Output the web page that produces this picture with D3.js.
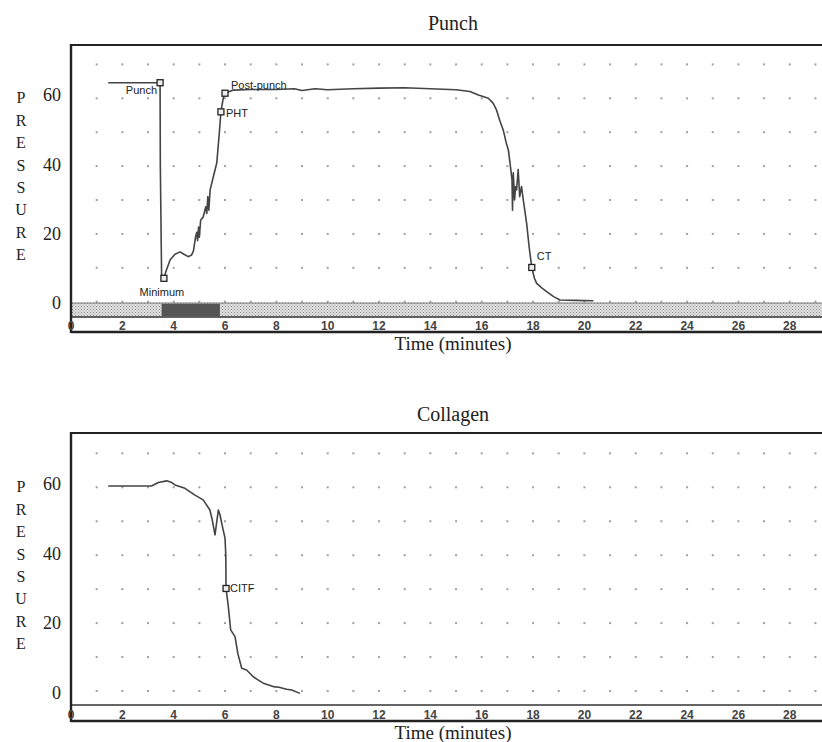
<!DOCTYPE html>
<html><head><meta charset="utf-8">
<script src="https://cdn.jsdelivr.net/npm/d3@7"></script>
<style>body{margin:0;background:#fff}svg{display:block}</style>
</head><body>
<script>
// ---- data ----
const xTicks = [0,2,4,6,8,10,12,14,16,18,20,22,24,26,28];
const yTicks = [0,20,40,60];
const gridMinutes = d3.range(1,30);
const gridValues = [0,10,20,30,40,50,60,70];

const punchTime = [1.45,3.47,3.48,3.53,3.62,3.7,3.86,4.05,4.25,4.4,4.57,4.7,4.77,4.85,4.9,4.93,4.97,5.0,5.05,5.15,5.25,5.29,5.33,5.37,5.42,5.55,5.68,5.78,5.84,5.93,6.0,6.3,7,8,8.7,9,9.5,10,11,12,13,14,15,15.54,15.87,16.26,16.45,16.58,16.7,16.84,16.95,17.04,17.1,17.18,17.2,17.23,17.28,17.32,17.36,17.42,17.48,17.55,17.62,17.75,17.85,17.95,18.05,18.14,18.35,18.53,18.8,19.05,19.6,20.35];
const punchPressure = [64.6,64.6,40,7.2,6.9,9,12.3,14,14.7,14,13.3,13.8,15,19,20.5,18,22,19,24,25,28,26,31,27,33,37,41,50,56,60,61.5,62.4,62.6,62.6,62.8,62.3,62.8,62.5,62.8,63,63.1,62.8,62.5,62,61,60,58.5,56.5,53.5,50.6,47,44.7,41,36,27,38,30,34,33,39,31,34,30,23.1,16,10.1,7,5.4,4,3,1.5,0.5,0.4,0.3];

const collagenTime = [1.45,2.5,3.14,3.4,3.73,3.9,4.05,4.44,4.83,5.15,5.41,5.5,5.61,5.68,5.74,5.8,5.93,6.0,6.03,6.04,6.13,6.22,6.39,6.5,6.65,6.84,7.1,7.3,7.49,7.7,7.88,8.1,8.4,8.6,8.92];
const collagenPressure = [60.4,60.4,60.4,61.4,61.9,61.5,60.7,59.7,57.7,56.3,53.3,50.5,46,50,53.3,52,47.4,45,40,30.2,24.8,18,16,11,6.7,6.2,4.2,3.2,2.3,1.8,1.3,1.1,0.5,0.3,-0.7];

const punchMarkers = [
  {name:"Punch", t:3.47, v:64.6, anchor:"end", dx:-3, dy:11},
  {name:"Minimum", t:3.62, v:6.9, anchor:"middle", dx:-2, dy:18},
  {name:"PHT", t:5.84, v:56, anchor:"start", dx:5, dy:5},
  {name:"Post-punch", t:6.0, v:61.5, anchor:"start", dx:6, dy:-4},
  {name:"CT", t:17.95, v:10.1, anchor:"start", dx:5, dy:-7}
];
const collagenMarkers = [
  {name:"CITF", t:6.04, v:30.2, anchor:"start", dx:4, dy:4}
];
const clotBand = [3.53, 5.8];

// ---- drawing ----
const W = 822, H = 742;
const svg = d3.select("body").append("svg").attr("width", W).attr("height", H);
const defs = svg.append("defs");
const pat = defs.append("pattern").attr("id","hatch").attr("patternUnits","userSpaceOnUse")
  .attr("width",3).attr("height",3);
pat.append("rect").attr("width",3).attr("height",3).attr("fill","#e2e2e2");
pat.append("rect").attr("width",1).attr("height",1).attr("fill","#8a8a8a");
pat.append("rect").attr("x",1.5).attr("y",1.5).attr("width",1).attr("height",1).attr("fill","#9a9a9a");

const x = d3.scaleLinear().domain([0, 29.4]).range([71, 825.7]);
const serif = "'Liberation Serif','DejaVu Serif',serif";
const sans = "'Liberation Sans','DejaVu Sans',sans-serif";

function panel(opts) {
  const y = d3.scaleLinear().domain([0, 60]).range([opts.y0, opts.y60]);
  const g = svg.append("g");
  // title
  g.append("text").attr("x", 453).attr("y", opts.titleY).attr("text-anchor","middle")
    .attr("font-family", serif).attr("font-size", 20).attr("fill","#222").text(opts.title);
  // grid dots
  const pts = [];
  gridMinutes.forEach(m => gridValues.forEach(v => pts.push([m, v])));
  g.selectAll("rect.dot").data(pts).join("rect").attr("class","dot")
    .attr("x", d => x(d[0]) - 1).attr("y", d => y(d[1]) - 1)
    .attr("width", 2).attr("height", 2).attr("fill", "#a0a0a0");
  // band
  if (opts.band) {
    g.append("rect").attr("x", x(0)).attr("y", y(0) + 1.3).attr("width", x(29.4) - x(0))
      .attr("height", opts.lineY - y(0) - 1.3).attr("fill","url(#hatch)");
    g.append("rect").attr("x", x(clotBand[0])).attr("y", y(0) + 2)
      .attr("width", x(clotBand[1]) - x(clotBand[0])).attr("height", opts.lineY - y(0) - 3)
      .attr("fill","#555");
    g.append("line").attr("x1", x(0)).attr("x2", 830).attr("y1", y(0)+1.3).attr("y2", y(0)+1.3)
      .attr("stroke","#777").attr("stroke-width",1);
  }
  // axis line above labels
  g.append("line").attr("x1", x(0)).attr("x2", 830).attr("y1", opts.lineY).attr("y2", opts.lineY)
    .attr("stroke","#333").attr("stroke-width", 1.6);
  // frame
  g.append("line").attr("x1", x(0)).attr("x2", 830).attr("y1", opts.top).attr("y2", opts.top)
    .attr("stroke","#222").attr("stroke-width", 2.2);
  g.append("line").attr("x1", x(0)).attr("x2", 830).attr("y1", opts.bottom).attr("y2", opts.bottom)
    .attr("stroke","#222").attr("stroke-width", 2.6);
  g.append("line").attr("x1", x(0)).attr("x2", x(0)).attr("y1", opts.top - 1).attr("y2", opts.bottom + 1)
    .attr("stroke","#222").attr("stroke-width", 2.4);
  // x tick labels
  g.selectAll("text.xt").data(xTicks).join("text").attr("class","xt")
    .attr("x", d => x(d)).attr("y", opts.bottom - 2).attr("text-anchor","middle")
    .attr("font-family", sans).attr("font-size", 12).attr("font-weight", 600)
    .attr("fill","#444").text(d => d);
  // x title
  g.append("text").attr("x", 453).attr("y", opts.bottom + 18).attr("text-anchor","middle")
    .attr("font-family", serif).attr("font-size", 19).attr("fill","#222").text("Time (minutes)");
  // y tick labels
  g.selectAll("text.yt").data(yTicks).join("text").attr("class","yt")
    .attr("x", 61).attr("y", d => y(d) + 6 - (d - 20) * 0.08).attr("text-anchor","end")
    .attr("font-family", serif).attr("font-size", 18).attr("fill","#222").text(d => d);
  // y title letters
  const letters = "PRESSURE".split("");
  g.selectAll("text.yl").data(letters).join("text").attr("class","yl")
    .attr("x", 21).attr("y", (d, i) => opts.y60 + 5 + i * 22.4).attr("text-anchor","middle")
    .attr("font-family", serif).attr("font-size", 16).attr("fill","#222").text(d => d);
  // curve
  const data = opts.time.map((t, i) => [t, opts.values[i]]);
  g.append("path").datum(data)
    .attr("d", d3.line().x(d => x(d[0])).y(d => y(d[1])))
    .attr("fill","none").attr("stroke","#444").attr("stroke-width", 1.6)
    .attr("stroke-linejoin","round");
  // markers
  const mk = g.selectAll("g.mk").data(opts.markers).join("g").attr("class","mk")
    .attr("transform", d => `translate(${x(d.t)},${y(d.v)})`);
  mk.append("rect").attr("x",-3).attr("y",-3).attr("width",6).attr("height",6)
    .attr("fill","#eee").attr("stroke","#222").attr("stroke-width",1.3);
  mk.append("text").attr("x", d => d.dx).attr("y", d => d.dy).attr("text-anchor", d => d.anchor)
    .attr("font-family", sans).attr("font-size", 11).attr("fill","#222").text(d => d.name);
}

panel({title:"Punch", titleY:30, top:45, bottom:332, lineY:317, y0:301.7, y60:98.3,
  band:true, time:punchTime, values:punchPressure, markers:punchMarkers});
panel({title:"Collagen", titleY:421, top:433, bottom:721, lineY:705, y0:691, y60:487.3,
  band:false, time:collagenTime, values:collagenPressure, markers:collagenMarkers});
</script>
</body></html>
